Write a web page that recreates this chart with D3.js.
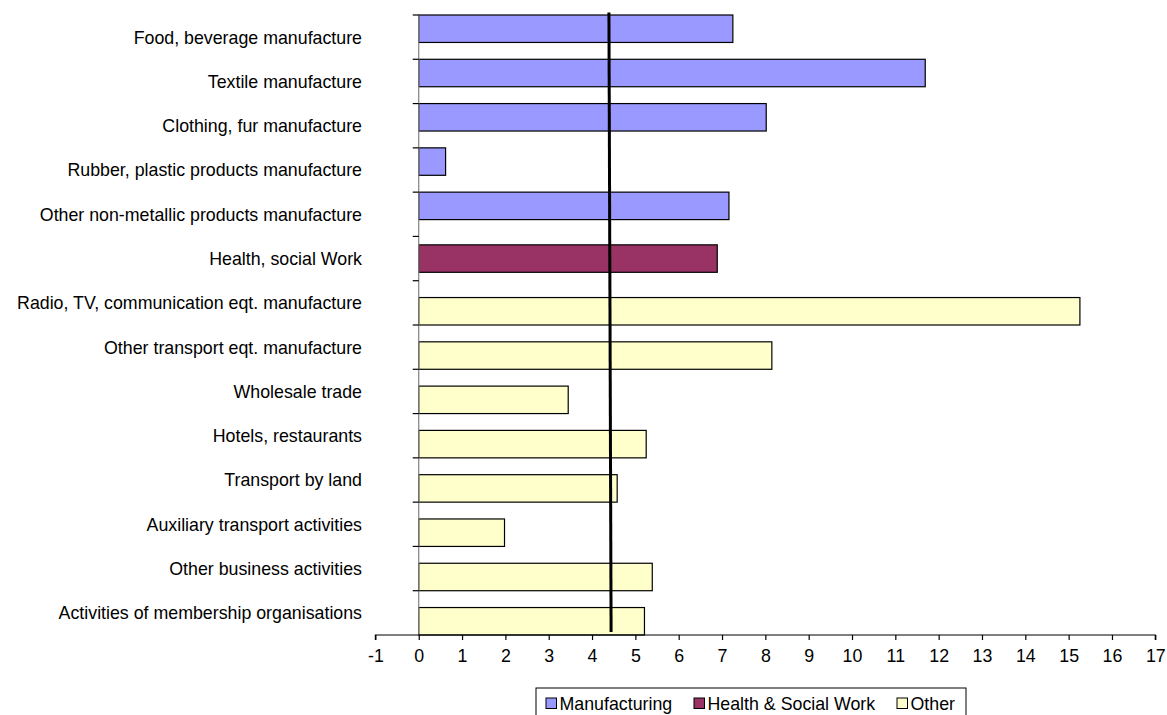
<!DOCTYPE html>
<html>
<head>
<meta charset="utf-8">
<script src="https://cdn.jsdelivr.net/npm/d3@7"></script>
<style>
  html, body { margin: 0; padding: 0; background: #fff; }
  svg { display: block; }
  text { font-family: "Liberation Sans", Arial, sans-serif; fill: #000; }
</style>
</head>
<body>
<svg id="chart" width="1167" height="715"></svg>
<script>
// Sector categories, top to bottom
const categories = [
  "Food, beverage manufacture",
  "Textile manufacture",
  "Clothing, fur manufacture",
  "Rubber, plastic products manufacture",
  "Other non-metallic products manufacture",
  "Health, social Work",
  "Radio, TV, communication eqt. manufacture",
  "Other transport eqt. manufacture",
  "Wholesale trade",
  "Hotels, restaurants",
  "Transport by land",
  "Auxiliary transport activities",
  "Other business activities",
  "Activities of membership organisations"
];
// Group each sector belongs to
const groups = [
  "Manufacturing", "Manufacturing", "Manufacturing", "Manufacturing", "Manufacturing",
  "Health & Social Work",
  "Other", "Other", "Other", "Other", "Other", "Other", "Other", "Other"
];
// Values per sector
const values = [7.25, 11.69, 8.02, 0.62, 7.16, 6.89, 15.26, 8.15, 3.45, 5.25, 4.58, 1.98, 5.39, 5.21];
// Series names (legend order) and colours
const seriesNames = ["Manufacturing", "Health & Social Work", "Other"];
const seriesColors = ["#9999FF", "#993366", "#FFFFCC"];
// Average reference line: x value at top and bottom of the plot
const averageLine = [4.39, 4.44];
// Value axis ticks
const xTicks = d3.range(-1, 18, 1);

const svg = d3.select("#chart");
const fontSize = 17.8;

const plot = { left: 375.4, right: 1155.3, top: 15, bottom: 635 };

const x = d3.scaleLinear().domain([-1, 17]).range([plot.left, plot.right]);
const y = d3.scaleBand().domain(categories).range([plot.top, plot.bottom]).padding(0);
const step = y.step();
const barH = step * 0.62;
const sub = d3.scalePoint().domain(seriesNames).range([-step * 0.19, step * 0.19]);
const color = d3.scaleOrdinal().domain(seriesNames).range(seriesColors);

const rows = categories.map((c, i) => ({ cat: c, group: groups[i], value: values[i] }));

// Bars
svg.append("g").selectAll("rect").data(rows).join("rect")
  .attr("x", x(0))
  .attr("y", d => y(d.cat) + step / 2 + sub(d.group) - barH / 2)
  .attr("width", d => x(d.value) - x(0))
  .attr("height", barH)
  .attr("fill", d => color(d.group))
  .attr("stroke", "#000")
  .attr("stroke-width", 1.2);

// Category axis at x = 0 (ticks on band boundaries)
const yAxisG = svg.append("g");
yAxisG.append("line")
  .attr("x1", x(0)).attr("x2", x(0))
  .attr("y1", plot.top).attr("y2", plot.bottom)
  .attr("stroke", "#808080").attr("stroke-width", 1.2);
const boundaries = categories.map(c => y(c));
yAxisG.selectAll("line.tick").data(boundaries).join("line")
  .attr("class", "tick")
  .attr("x1", x(0) - 6).attr("x2", x(0))
  .attr("y1", d => d).attr("y2", d => d)
  .attr("stroke", "#000").attr("stroke-width", 1.2);
yAxisG.selectAll("text").data(categories).join("text")
  .attr("x", 362)
  .attr("y", d => y(d) + step / 2)
  .attr("dy", "0.36em")
  .attr("text-anchor", "end")
  .style("font-size", fontSize + "px")
  .text(d => d);

// Value axis along the bottom (plain hyphen for negatives)
const xAxis = d3.axisBottom(x).tickValues(xTicks).tickSize(5).tickPadding(9).tickFormat(d => String(d));
const xAxisG = svg.append("g")
  .attr("transform", `translate(0,${plot.bottom})`)
  .call(xAxis);
xAxisG.select(".domain").attr("stroke", "#000").attr("stroke-width", 1.2)
  .attr("d", `M${plot.left},5V0H${plot.right}V5`);
xAxisG.selectAll(".tick line").attr("stroke", "#000").attr("stroke-width", 1.2);
xAxisG.selectAll(".tick text")
  .style("font-size", fontSize + "px")
  .style("font-family", "'Liberation Sans', Arial, sans-serif")
  .attr("fill", "#000");

// Average line
const yLine = d3.scaleLinear().domain([0, 1]).range([plot.top - 2.5, plot.bottom - 3]);
svg.append("path")
  .datum(averageLine)
  .attr("d", d3.line().x(d => x(d)).y((d, i) => yLine(i)))
  .attr("stroke", "#000")
  .attr("stroke-width", 3)
  .attr("fill", "none");

// Legend
const legend = svg.append("g");
legend.append("rect")
  .attr("x", 536).attr("y", 688)
  .attr("width", 430).attr("height", 40)
  .attr("fill", "#fff").attr("stroke", "#000").attr("stroke-width", 1);
const legendX = [546, 694, 897];
const items = legend.selectAll("g.item").data(seriesNames).join("g")
  .attr("class", "item")
  .attr("transform", (d, i) => `translate(${legendX[i]},698)`);
items.append("rect")
  .attr("width", 10.5).attr("height", 10.5)
  .attr("fill", d => color(d))
  .attr("stroke", "#000").attr("stroke-width", 1);
items.append("text")
  .attr("x", 13.5).attr("y", 12)
  .style("font-size", fontSize + "px")
  .text(d => d);
</script>
</body>
</html>
